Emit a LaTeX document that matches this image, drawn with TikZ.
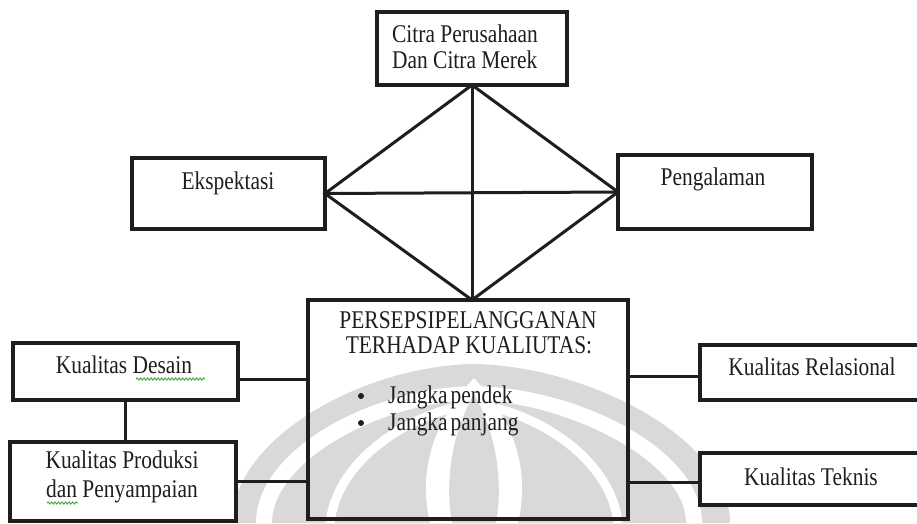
\documentclass[tikz,border=0pt]{standalone}
\usepackage{fontspec}
\setmainfont{Liberation Serif}[FakeStretch=0.84]
\usetikzlibrary{decorations.pathmorphing}
\definecolor{ink}{HTML}{1E1E1E}
\definecolor{wmgray}{HTML}{D9D9D9}
\definecolor{spell}{HTML}{3FA63F}
\begin{document}
\begin{tikzpicture}[x=1pt,y=-1pt,
  box/.style={draw=ink,line width=3.6pt,fill=white,inner sep=0pt,outer sep=0pt},
  frame/.style={draw=ink,line width=3.6pt,inner sep=0pt,outer sep=0pt},
  lbl/.style={font=\fontsize{25.5}{28}\selectfont,inner sep=0pt,anchor=base,text=ink},
  dot/.style={circle,fill=ink,inner sep=0pt,minimum size=6pt},
  link/.style={draw=ink,line width=3pt},
  wavy/.style={draw=spell,line width=0.9pt,decorate,
    decoration={snake,amplitude=1.1pt,segment length=3.5pt}},
  wm/.style={fill=wmgray}]
\useasboundingbox[fill=white] (0,0) rectangle (917,523);

% faint emblem in the background
\fill[wm] (232,523) .. controls (232,440) and (360,366) .. (474,364)
  .. controls (590,366) and (730,440) .. (730,523) -- cycle;
\fill[white] (256,523) .. controls (256,450) and (370,388) .. (474,386)
  .. controls (580,388) and (702,450) .. (702,523) -- cycle;
\fill[wm] (272,523) .. controls (272,462) and (380,402) .. (474,400)
  .. controls (568,402) and (686,462) .. (686,523) -- cycle;
\draw[white,line width=9pt] (330,523) .. controls (336,468) and (392,424) .. (452,408);
\draw[white,line width=9pt] (618,523) .. controls (612,468) and (556,424) .. (496,408);
\fill[white] (474,378) .. controls (426,430) and (420,480) .. (430,523)
  -- (518,523) .. controls (528,480) and (522,430) .. (474,378) -- cycle;
\fill[wm] (474,394) .. controls (448,440) and (446,490) .. (452,523)
  -- (496,523) .. controls (502,490) and (500,440) .. (474,394) -- cycle;

% boxes
\node[box,minimum width=190pt,minimum height=73pt] (citra) at (472,48.5) {};
\node[box,minimum width=193pt,minimum height=71pt] (eksp) at (228.5,193.5) {};
\node[box,minimum width=194pt,minimum height=74pt] (peng) at (715,192) {};
\node[frame,minimum width=320pt,minimum height=219pt] (persepsi) at (468,409.5) {};
\node[box,minimum width=225pt,minimum height=57pt] (desain) at (125.5,371.5) {};
\node[box,minimum width=226pt,minimum height=79pt] (produksi) at (123,481.5) {};
\node[box,minimum width=240pt,minimum height=55pt] (relasional) at (820,372.5) {};
\node[box,minimum width=240pt,minimum height=52pt] (teknis) at (820,479) {};

% texts
\node[lbl,anchor=base west] (citraA) at (392,42) {Citra Perusahaan};
\node[lbl,anchor=base west] (citraB) at (392,68) {Dan Citra Merek};
\node[lbl] (ekspT) at (228,189) {Ekspektasi};
\node[lbl] (pengT) at (713,185) {Pengalaman};
\node[lbl] (perA) at (468,328) {PERSEPSIPELANGGANAN};
\node[lbl] (perB) at (469,353) {TERHADAP KUALIUTAS:};
\node[dot] (bulA) at (361,396) {};
\node[dot] (bulB) at (361,423) {};
\node[lbl,anchor=base west] (jA) at (388,403) {Jangka\hspace{3pt}pendek};
\node[lbl,anchor=base west] (jB) at (388,430) {Jangka\hspace{3pt}panjang};
\node[lbl] (desT) at (124,373) {Kualitas Desain};
\node[lbl] (proA) at (122,468) {Kualitas Produksi};
\node[lbl] (proB) at (122,497) {dan Penyampaian};
\node[lbl] (relT) at (812,375) {Kualitas Relasional};
\node[lbl] (tekT) at (811,485) {Kualitas Teknis};

% spelling marks under words
\draw[wavy] (136,379) -- (205,379);
\draw[wavy] (47,503) -- (78,503);

% diamond with its two diagonals
\coordinate (dB) at (citra.south |- persepsi.north);
\draw[link,line join=miter] (citra.south) -- (eksp.east) -- (dB) -- (peng.west) -- cycle;
\draw[link] (citra.south) -- (dB);
\draw[link] (eksp.east) -- (peng.west);

% side connectors
\coordinate (dR) at ([yshift=-7.5pt]desain.east);
\draw[link] (dR) -- (dR -| persepsi.west);
\draw[link] (produksi.east) -- (produksi.east -| persepsi.west);
\draw[link] (desain.south) -- (desain.south |- produksi.north);
\coordinate (rL) at ([yshift=-3.5pt]relasional.west);
\draw[link] (rL -| persepsi.east) -- (rL);
\coordinate (tL) at ([yshift=-3pt]teknis.west);
\draw[link] (tL -| persepsi.east) -- (tL);
\end{tikzpicture}
\end{document}
